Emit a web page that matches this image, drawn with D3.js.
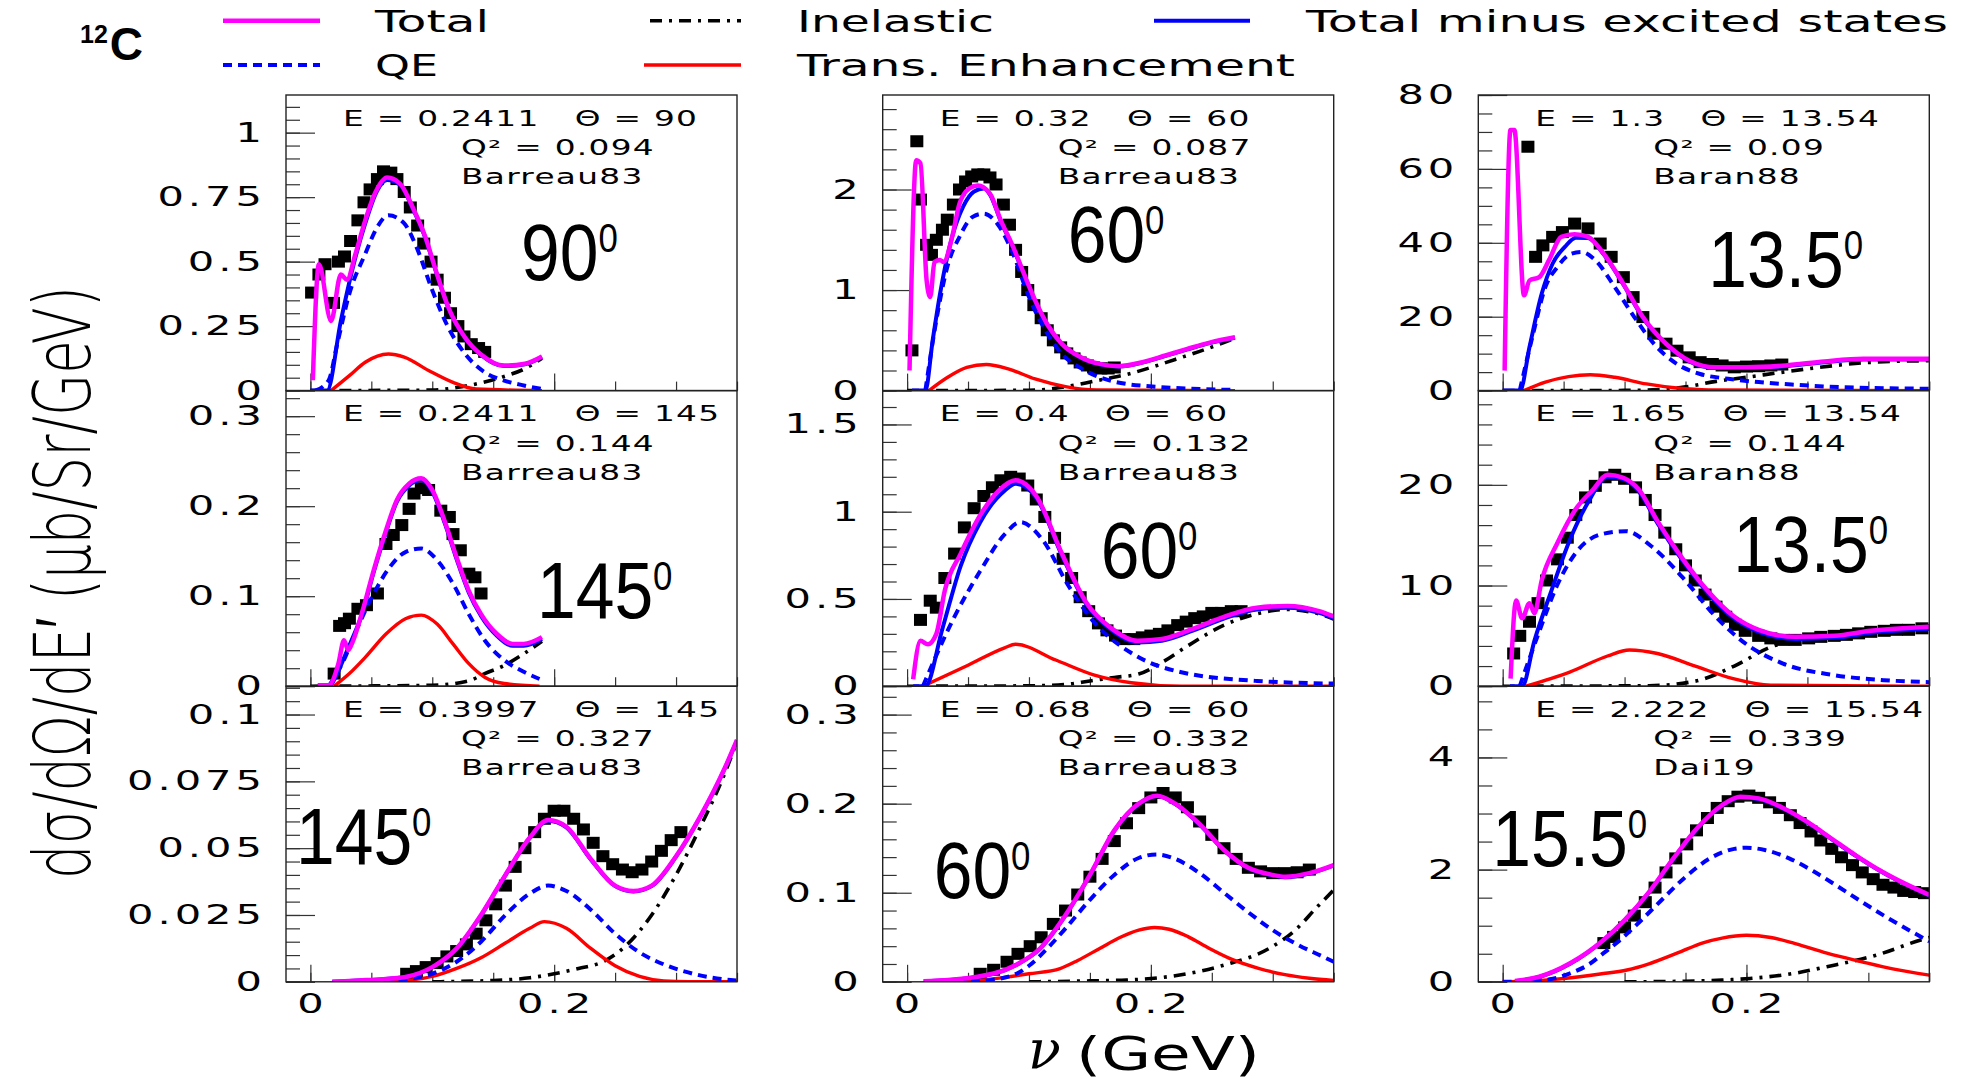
<!DOCTYPE html>
<html><head><meta charset="utf-8">
<script src="https://cdn.jsdelivr.net/npm/d3@7"></script>
<style>body{margin:0;background:#fff;overflow:hidden} text{white-space:pre}</style>
</head><body>
<svg id="c" width="1969" height="1080" xmlns="http://www.w3.org/2000/svg"></svg>
<script>
// ---------------- DATA ----------------
const panelE = ["0.2411","0.32","1.3","0.2411","0.4","1.65","0.3997","0.68","2.222"];
const panelTheta = ["90","60","13.54","145","60","13.54","145","60","15.54"];
const panelQ2 = ["0.094","0.087","0.09","0.144","0.132","0.144","0.327","0.332","0.339"];
const panelRef = ["Barreau83","Barreau83","Baran88","Barreau83","Barreau83","Baran88","Barreau83","Barreau83","Dai19"];
const angleLabel = ["90","60","13.5","145","60","13.5","145","60","15.5"];
const yMax = [1.146, 2.94, 80, 0.3284, 1.694, 29.36, 0.1106, 0.3319, 5.27];
const yMajor = [0.25, 1, 20, 0.1, 0.5, 10, 0.025, 0.1, 2];
const yMinor = [0.05, 0.2, 5, 0.02, 0.1, 2, 0.005, 0.02, 0.5];
const yTickLabels = [["0","0.25","0.5","0.75","1"],["0","1","2"],["0","20","40","60","80"],
  ["0","0.1","0.2","0.3"],["0","0.5","1","1.5"],["0","10","20"],
  ["0","0.025","0.05","0.075","0.1"],["0","0.1","0.2","0.3"],["0","2","4"]];
const xTickLabels = ["0","0.2"];
const xMajorTicks = [0, 0.2];
const xMinorTicks = [0, 0.05, 0.1, 0.15, 0.2, 0.25, 0.3, 0.35];
const legendLabels = ["Total","QE","Inelastic","Trans. Enhancement","Total minus excited states"];

// panel 1 (E=0.2411, 90 deg)
const p1_total = [[0.002,0.04],[0.007,0.49],[0.017,0.27],[0.025,0.45],[0.03,0.43],[0.037,0.53],[0.045,0.66],[0.053,0.765],[0.063,0.826],[0.074,0.80],[0.084,0.71],[0.094,0.6],[0.104,0.45],[0.113,0.325],[0.127,0.205],[0.14,0.14],[0.159,0.097],[0.176,0.104],[0.19,0.132]];
const p1_tminus = [[0.0,0],[0.0137,0],[0.025,0.27],[0.035,0.48],[0.045,0.648],[0.055,0.777],[0.063,0.816],[0.074,0.795],[0.084,0.705],[0.094,0.595],[0.104,0.447],[0.113,0.322],[0.127,0.203],[0.14,0.138],[0.159,0.095],[0.176,0.102],[0.19,0.13]];
const p1_qe = [[0.004,0],[0.015,0.04],[0.022,0.18],[0.032,0.376],[0.045,0.53],[0.055,0.635],[0.064,0.68],[0.077,0.648],[0.087,0.557],[0.1,0.389],[0.113,0.246],[0.127,0.142],[0.143,0.071],[0.159,0.039],[0.176,0.019],[0.19,0.006]];
const p1_te = [[0.017,0],[0.032,0.058],[0.045,0.11],[0.064,0.142],[0.077,0.13],[0.097,0.078],[0.117,0.032],[0.136,0.006],[0.19,0]];
const p1_inel = [[0.0,0],[0.1,0.002],[0.12,0.012],[0.14,0.03],[0.159,0.055],[0.176,0.085],[0.19,0.125]];
const p1_data = [[0.001,0.38],[0.007,0.45],[0.012,0.49],[0.019,0.34],[0.023,0.5],[0.028,0.52],[0.033,0.58],[0.039,0.66],[0.044,0.73],[0.049,0.78],[0.055,0.82],[0.06,0.85],[0.066,0.845],[0.071,0.82],[0.077,0.77],[0.082,0.71],[0.088,0.64],[0.093,0.57],[0.099,0.5],[0.104,0.43],[0.11,0.36],[0.115,0.3],[0.121,0.25],[0.126,0.21],[0.132,0.18],[0.138,0.165],[0.143,0.15]];

// panel 2 (E=0.32, 60 deg)
const p2_total = [[0.002,0.2],[0.0075,2.29],[0.011,2.26],[0.016,1.1],[0.019,0.93],[0.0225,1.28],[0.027,1.3],[0.03,1.28],[0.037,1.53],[0.043,1.86],[0.051,2.01],[0.058,2.04],[0.068,1.96],[0.077,1.69],[0.087,1.43],[0.096,1.16],[0.105,0.9],[0.115,0.66],[0.127,0.465],[0.143,0.33],[0.158,0.266],[0.174,0.243],[0.193,0.282],[0.212,0.349],[0.23,0.415],[0.249,0.48],[0.269,0.53]];
const p2_tminus = [[0.004,0],[0.015,0],[0.021,0.5],[0.027,0.96],[0.037,1.53],[0.046,1.83],[0.055,1.98],[0.063,2.01],[0.068,1.95],[0.077,1.68],[0.087,1.42],[0.096,1.15],[0.105,0.89],[0.115,0.65],[0.127,0.46],[0.143,0.325],[0.158,0.262],[0.174,0.24],[0.193,0.278],[0.212,0.345],[0.23,0.41],[0.249,0.475],[0.269,0.525]];
const p2_qe = [[0.015,0],[0.024,0.7],[0.033,1.23],[0.043,1.53],[0.054,1.73],[0.063,1.76],[0.074,1.66],[0.087,1.36],[0.099,0.96],[0.112,0.63],[0.127,0.365],[0.146,0.2],[0.162,0.116],[0.18,0.066],[0.199,0.043],[0.218,0.027],[0.269,0.007]];
const p2_te = [[0.018,0],[0.033,0.13],[0.049,0.23],[0.065,0.26],[0.083,0.216],[0.105,0.116],[0.13,0.04],[0.155,0.007],[0.269,0]];
const p2_inel = [[0.0,0],[0.1,0.003],[0.12,0.02],[0.14,0.06],[0.16,0.11],[0.18,0.16],[0.2,0.23],[0.22,0.31],[0.24,0.39],[0.269,0.52]];
const p2_data = [[0.004,0.4],[0.008,2.48],[0.011,1.9],[0.016,1.45],[0.02,1.35],[0.024,1.5],[0.029,1.6],[0.033,1.7],[0.038,1.85],[0.043,2.0],[0.048,2.08],[0.053,2.13],[0.058,2.15],[0.063,2.15],[0.068,2.12],[0.073,2.05],[0.079,1.85],[0.084,1.65],[0.089,1.4],[0.094,1.18],[0.099,1.0],[0.104,0.85],[0.11,0.72],[0.115,0.6],[0.12,0.5],[0.126,0.43],[0.131,0.37],[0.137,0.32],[0.142,0.28],[0.148,0.25],[0.153,0.23],[0.159,0.22],[0.165,0.22],[0.17,0.23]];

// panel 3 (E=1.3, 13.54 deg)
const p3_total = [[0.0016,5.4],[0.0064,70.5],[0.0096,70.5],[0.0175,25.8],[0.022,29.8],[0.03,30.7],[0.038,35.3],[0.048,41.6],[0.059,42.3],[0.07,41.6],[0.083,37],[0.099,28.9],[0.115,19.9],[0.134,12.7],[0.153,8.1],[0.175,6.3],[0.2,6.3],[0.232,6.8],[0.264,7.9],[0.296,8.6],[0.35,8.6]];
const p3_tminus = [[0.0,0],[0.0143,0],[0.022,11.8],[0.032,26.2],[0.041,34.4],[0.051,38.9],[0.06,41.4],[0.07,41.3],[0.083,36.8],[0.099,28.7],[0.115,19.7],[0.134,12.5],[0.153,7.9],[0.175,6.1],[0.2,6.1],[0.232,6.6],[0.264,7.7],[0.296,8.4],[0.35,8.4]];
const p3_qe = [[0.014,0],[0.025,15.4],[0.035,28],[0.045,33.5],[0.056,37],[0.065,37.5],[0.076,35.3],[0.092,28],[0.108,19.9],[0.124,12.7],[0.143,7.2],[0.162,4.5],[0.185,3.2],[0.21,2.3],[0.239,1.6],[0.28,0.9],[0.35,0.5]];
const p3_te = [[0.0175,0],[0.035,2.3],[0.054,3.8],[0.072,4.3],[0.092,3.6],[0.118,1.8],[0.143,0.7],[0.169,0.2],[0.35,0]];
const p3_inel = [[0.0,0],[0.1,0.05],[0.13,0.3],[0.15,1.0],[0.175,2.5],[0.2,3.6],[0.23,5.0],[0.26,6.3],[0.3,7.6],[0.35,8.1]];
const p3_data = [[0.0207,66],[0.027,36.2],[0.033,39.3],[0.041,41.6],[0.049,42.9],[0.059,45.2],[0.07,43.9],[0.08,39.8],[0.089,36.2],[0.099,30.7],[0.107,25.3],[0.115,19.9],[0.124,15.4],[0.134,12.7],[0.143,10.8],[0.153,9],[0.162,7.7],[0.172,7.2],[0.18,6.8],[0.19,6.3],[0.2,6.5],[0.21,6.6],[0.22,6.8],[0.229,7.05]];

// panel 4 (E=0.2411, 145 deg)
const p4_total = [[0.006,0.001],[0.015,0.001],[0.023,0.025],[0.0276,0.051],[0.031,0.04],[0.034,0.047],[0.042,0.08],[0.052,0.129],[0.062,0.173],[0.071,0.207],[0.081,0.225],[0.091,0.231],[0.1,0.218],[0.11,0.184],[0.12,0.143],[0.13,0.106],[0.14,0.08],[0.153,0.058],[0.166,0.047],[0.175,0.047],[0.19,0.0545]];
const p4_tminus = [[0.006,0],[0.015,0],[0.023,0.017],[0.029,0.036],[0.036,0.058],[0.042,0.078],[0.052,0.127],[0.062,0.171],[0.071,0.205],[0.081,0.223],[0.091,0.229],[0.1,0.216],[0.11,0.182],[0.12,0.141],[0.13,0.104],[0.14,0.078],[0.153,0.056],[0.166,0.045],[0.175,0.045],[0.19,0.0525]];
const p4_qe = [[0.015,0],[0.026,0.025],[0.039,0.066],[0.052,0.103],[0.065,0.132],[0.078,0.149],[0.091,0.153],[0.104,0.14],[0.117,0.114],[0.13,0.08],[0.143,0.051],[0.159,0.029],[0.175,0.016],[0.188,0.008]];
const p4_te = [[0.0195,0],[0.032,0.014],[0.045,0.032],[0.062,0.058],[0.078,0.075],[0.091,0.079],[0.104,0.069],[0.117,0.047],[0.13,0.025],[0.143,0.01],[0.159,0.003],[0.188,0]];
const p4_inel = [[0.0,0],[0.1,0.001],[0.13,0.006],[0.143,0.014],[0.159,0.023],[0.175,0.036],[0.19,0.05]];
const p4_data = [[0.0195,0.014],[0.024,0.067],[0.028,0.07],[0.032,0.075],[0.039,0.086],[0.046,0.09],[0.055,0.103],[0.062,0.158],[0.068,0.168],[0.075,0.179],[0.081,0.197],[0.085,0.214],[0.091,0.22],[0.097,0.218],[0.107,0.195],[0.114,0.188],[0.117,0.169],[0.123,0.151],[0.13,0.125],[0.135,0.121],[0.14,0.103]];

// panel 5 (E=0.4, 60 deg)
const p5_total = [[0.005,0.04],[0.011,0.26],[0.017,0.24],[0.024,0.3],[0.031,0.55],[0.044,0.76],[0.06,0.98],[0.075,1.12],[0.089,1.18],[0.106,1.09],[0.127,0.76],[0.147,0.48],[0.168,0.33],[0.189,0.26],[0.209,0.27],[0.235,0.33],[0.261,0.4],[0.287,0.45],[0.312,0.46],[0.338,0.43],[0.35,0.4]];
const p5_tminus = [[0.005,0],[0.015,0],[0.029,0.33],[0.044,0.69],[0.06,0.94],[0.08,1.12],[0.089,1.16],[0.106,1.08],[0.127,0.75],[0.147,0.47],[0.168,0.32],[0.189,0.25],[0.209,0.26],[0.235,0.32],[0.261,0.39],[0.287,0.44],[0.312,0.45],[0.338,0.42],[0.35,0.39]];
const p5_qe = [[0.013,0],[0.039,0.4],[0.06,0.66],[0.08,0.87],[0.093,0.94],[0.111,0.84],[0.132,0.58],[0.153,0.37],[0.184,0.19],[0.225,0.08],[0.287,0.03],[0.35,0.015]];
const p5_te = [[0.013,0],[0.05,0.12],[0.08,0.22],[0.089,0.24],[0.122,0.15],[0.153,0.065],[0.184,0.02],[0.225,0],[0.35,0]];
const p5_inel = [[0.0,0],[0.1,0.002],[0.13,0.01],[0.15,0.03],[0.17,0.05],[0.19,0.07],[0.21,0.14],[0.23,0.23],[0.26,0.35],[0.29,0.42],[0.31,0.44],[0.34,0.41],[0.35,0.385]];
const p5_data = [[0.011,0.38],[0.019,0.49],[0.024,0.45],[0.031,0.62],[0.039,0.76],[0.047,0.91],[0.055,1.02],[0.063,1.09],[0.07,1.14],[0.077,1.18],[0.085,1.2],[0.092,1.19],[0.099,1.15],[0.106,1.07],[0.113,0.97],[0.121,0.85],[0.128,0.73],[0.135,0.62],[0.142,0.51],[0.149,0.43],[0.157,0.36],[0.164,0.32],[0.171,0.29],[0.178,0.27],[0.186,0.27],[0.193,0.28],[0.2,0.29],[0.207,0.3],[0.214,0.32],[0.222,0.35],[0.229,0.37],[0.236,0.39],[0.243,0.4],[0.25,0.42],[0.258,0.42],[0.266,0.43],[0.274,0.43]];

// panel 6 (E=1.65, 13.54 deg)
const p6_total = [[0.0065,0.75],[0.011,8.5],[0.016,6.75],[0.022,8.25],[0.026,7.25],[0.032,10.5],[0.045,14.25],[0.06,17.6],[0.074,19.5],[0.086,21],[0.098,20.75],[0.112,19.5],[0.127,16.4],[0.148,12.6],[0.168,9.5],[0.189,7],[0.21,5.6],[0.24,4.9],[0.272,5],[0.302,5.5],[0.35,5.9]];
const p6_tminus = [[0.006,0],[0.016,0],[0.026,4.5],[0.04,9.5],[0.055,14.5],[0.07,18.25],[0.086,20.8],[0.098,20.6],[0.112,19.3],[0.127,16.2],[0.148,12.4],[0.168,9.3],[0.189,6.8],[0.21,5.4],[0.24,4.7],[0.272,4.8],[0.302,5.3],[0.35,5.7]];
const p6_qe = [[0.014,0],[0.029,5.1],[0.045,10.1],[0.06,13.25],[0.081,15.1],[0.101,15.4],[0.122,13.9],[0.148,10.75],[0.174,7],[0.199,4.25],[0.23,2.25],[0.272,1.1],[0.313,0.6],[0.35,0.4]];
const p6_te = [[0.019,0],[0.055,1.4],[0.086,3],[0.104,3.6],[0.127,3.25],[0.158,2],[0.189,0.75],[0.22,0.1],[0.35,0]];
const p6_inel = [[0.0,0],[0.12,0.05],[0.158,0.5],[0.19,2],[0.22,3.9],[0.25,4.75],[0.282,5.4],[0.313,5.6],[0.35,6]];
const p6_data = [[0.009,3.25],[0.014,5],[0.022,6.4],[0.029,8.25],[0.036,10.5],[0.045,12.6],[0.053,14.75],[0.06,17],[0.068,18.75],[0.076,19.9],[0.084,20.75],[0.092,21],[0.1,20.6],[0.109,19.75],[0.117,18.5],[0.125,17],[0.133,15.25],[0.142,13.6],[0.15,12],[0.158,10.5],[0.166,9.1],[0.175,7.9],[0.183,6.9],[0.191,6.1],[0.199,5.5],[0.21,5],[0.22,4.75],[0.23,4.6],[0.24,4.6],[0.251,4.75],[0.261,4.9],[0.272,5],[0.282,5.1],[0.292,5.25],[0.302,5.4],[0.313,5.5],[0.323,5.6],[0.333,5.6],[0.344,5.75]];

// panel 7 (E=0.3997, 145 deg)
const p7_total = [[0.018,0],[0.04,0.0005],[0.06,0.001],[0.08,0.002],[0.1,0.0055],[0.12,0.0125],[0.14,0.025],[0.16,0.04],[0.18,0.054],[0.195,0.0605],[0.21,0.058],[0.23,0.046],[0.25,0.036],[0.265,0.034],[0.28,0.036],[0.3,0.047],[0.32,0.062],[0.34,0.08],[0.35,0.0905]];
const p7_tminus = [[0.018,0],[0.04,0.0005],[0.06,0.001],[0.08,0.002],[0.1,0.0054],[0.12,0.0123],[0.14,0.0248],[0.16,0.0398],[0.18,0.0538],[0.195,0.0603],[0.21,0.0578],[0.23,0.0458],[0.25,0.0358],[0.265,0.0338],[0.28,0.0358],[0.3,0.0468],[0.32,0.0618],[0.34,0.0798],[0.35,0.0903]];
const p7_qe = [[0.06,0],[0.08,0.001],[0.1,0.003],[0.12,0.0075],[0.14,0.015],[0.16,0.025],[0.18,0.033],[0.195,0.036],[0.21,0.034],[0.23,0.027],[0.25,0.018],[0.27,0.011],[0.29,0.0065],[0.31,0.0035],[0.33,0.0015],[0.35,0.0005]];
const p7_te = [[0.06,0],[0.08,0.0005],[0.1,0.002],[0.12,0.005],[0.14,0.009],[0.16,0.0145],[0.18,0.02],[0.192,0.0225],[0.21,0.02],[0.23,0.0125],[0.25,0.006],[0.27,0.002],[0.29,0.0003],[0.31,0],[0.35,0]];
const p7_inel = [[0.1,0],[0.15,0.0005],[0.18,0.0015],[0.2,0.003],[0.22,0.005],[0.24,0.0075],[0.26,0.014],[0.28,0.025],[0.3,0.04],[0.32,0.058],[0.34,0.078],[0.35,0.09]];
const p7_data = [[0.079,0.003],[0.087,0.004],[0.095,0.0055],[0.104,0.007],[0.112,0.0095],[0.12,0.0115],[0.128,0.014],[0.136,0.018],[0.144,0.023],[0.152,0.029],[0.16,0.036],[0.168,0.043],[0.176,0.05],[0.184,0.056],[0.192,0.061],[0.2,0.064],[0.208,0.064],[0.216,0.061],[0.224,0.057],[0.232,0.052],[0.24,0.047],[0.248,0.044],[0.256,0.042],[0.264,0.041],[0.272,0.042],[0.28,0.045],[0.288,0.049],[0.296,0.053],[0.304,0.056]];

// panel 8 (E=0.68, 60 deg)
const p8_total = [[0.0136,0.0006],[0.052,0.0045],[0.09,0.0195],[0.109,0.0374],[0.13,0.075],[0.15,0.12],[0.17,0.17],[0.19,0.2],[0.205,0.209],[0.22,0.2],[0.24,0.177],[0.26,0.148],[0.28,0.128],[0.3,0.12],[0.31,0.118],[0.33,0.122],[0.35,0.131]];
const p8_tminus = [[0.0136,0.0005],[0.052,0.0043],[0.09,0.0192],[0.109,0.037],[0.13,0.0745],[0.15,0.1195],[0.17,0.1695],[0.19,0.1995],[0.205,0.2085],[0.22,0.1995],[0.24,0.1765],[0.26,0.1475],[0.28,0.1275],[0.3,0.1195],[0.31,0.1175],[0.33,0.1215],[0.35,0.1305]];
const p8_qe = [[0.04,0],[0.06,0.001],[0.087,0.0075],[0.1,0.018],[0.115,0.0374],[0.13,0.06],[0.15,0.092],[0.17,0.12],[0.19,0.139],[0.205,0.143],[0.22,0.138],[0.24,0.122],[0.26,0.1],[0.28,0.078],[0.3,0.058],[0.32,0.042],[0.34,0.029],[0.35,0.0225]];
const p8_te = [[0.03,0],[0.052,0.0006],[0.08,0.005],[0.1,0.009],[0.1255,0.0149],[0.14,0.024],[0.158,0.0374],[0.175,0.05],[0.19,0.058],[0.203,0.061],[0.215,0.059],[0.23,0.051],[0.248,0.0374],[0.265,0.026],[0.289,0.0149],[0.31,0.008],[0.33,0.004],[0.35,0.0015]];
const p8_inel = [[0.1,0],[0.15,0.001],[0.18,0.002],[0.207,0.0045],[0.235,0.0104],[0.262,0.0195],[0.297,0.0374],[0.32,0.06],[0.335,0.082],[0.35,0.103]];
const p8_data = [[0.06,0.009],[0.071,0.0135],[0.082,0.0225],[0.091,0.0314],[0.101,0.04],[0.11,0.05],[0.12,0.065],[0.13,0.08],[0.14,0.098],[0.15,0.118],[0.16,0.138],[0.17,0.158],[0.18,0.178],[0.19,0.195],[0.2,0.207],[0.21,0.212],[0.22,0.207],[0.23,0.196],[0.24,0.18],[0.25,0.165],[0.26,0.15],[0.27,0.138],[0.28,0.128],[0.29,0.124],[0.3,0.122],[0.31,0.122],[0.32,0.123],[0.33,0.126]];

// panel 9 (E=2.222, 15.54 deg)
const p9_total = [[0.0101,0.0127],[0.03,0.09],[0.0553,0.33],[0.0827,0.746],[0.1,1.1],[0.12,1.6],[0.14,2.2],[0.16,2.75],[0.18,3.15],[0.195,3.3],[0.21,3.27],[0.23,3.1],[0.25,2.85],[0.27,2.55],[0.29,2.25],[0.31,1.98],[0.33,1.75],[0.35,1.55]];
const p9_tminus = [[0.0101,0.01],[0.03,0.085],[0.0553,0.32],[0.0827,0.74],[0.1,1.09],[0.12,1.59],[0.14,2.19],[0.16,2.74],[0.18,3.14],[0.195,3.29],[0.21,3.26],[0.23,3.09],[0.25,2.84],[0.27,2.54],[0.29,2.24],[0.31,1.97],[0.33,1.74],[0.35,1.54]];
const p9_qe = [[0.0,0],[0.02,0.01],[0.04,0.05],[0.0553,0.15],[0.07,0.3],[0.0827,0.51],[0.0964,0.746],[0.11,1.02],[0.13,1.45],[0.15,1.87],[0.17,2.2],[0.19,2.37],[0.2,2.39],[0.215,2.35],[0.235,2.2],[0.255,1.97],[0.275,1.7],[0.295,1.42],[0.315,1.15],[0.335,0.9],[0.35,0.72]];
const p9_te = [[0.0,0],[0.02,0.01],[0.05,0.06],[0.08,0.14],[0.102,0.21],[0.12,0.32],[0.143,0.51],[0.165,0.7],[0.18,0.78],[0.2,0.83],[0.22,0.79],[0.24,0.68],[0.266,0.51],[0.294,0.36],[0.32,0.23],[0.35,0.12]];
const p9_inel = [[0.1,0],[0.15,0.01],[0.18,0.03],[0.203,0.06],[0.239,0.15],[0.266,0.27],[0.307,0.478],[0.343,0.746],[0.35,0.79]];
const p9_data = [[0.083,0.69],[0.091,0.8],[0.1,0.97],[0.108,1.18],[0.117,1.42],[0.125,1.68],[0.134,1.95],[0.142,2.2],[0.151,2.45],[0.159,2.7],[0.168,2.92],[0.176,3.1],[0.185,3.22],[0.193,3.3],[0.202,3.32],[0.21,3.28],[0.219,3.2],[0.227,3.1],[0.236,2.97],[0.244,2.83],[0.253,2.68],[0.261,2.52],[0.27,2.37],[0.278,2.22],[0.287,2.08],[0.295,1.95],[0.304,1.83],[0.312,1.73],[0.321,1.68],[0.329,1.62],[0.338,1.6],[0.346,1.58]];

// ---------------- TABLE BUILT FROM ARRAYS ----------------
const panels = [
  {total:p1_total,tminus:p1_tminus,qe:p1_qe,te:p1_te,inel:p1_inel,data:p1_data},
  {total:p2_total,tminus:p2_tminus,qe:p2_qe,te:p2_te,inel:p2_inel,data:p2_data},
  {total:p3_total,tminus:p3_tminus,qe:p3_qe,te:p3_te,inel:p3_inel,data:p3_data},
  {total:p4_total,tminus:p4_tminus,qe:p4_qe,te:p4_te,inel:p4_inel,data:p4_data},
  {total:p5_total,tminus:p5_tminus,qe:p5_qe,te:p5_te,inel:p5_inel,data:p5_data},
  {total:p6_total,tminus:p6_tminus,qe:p6_qe,te:p6_te,inel:p6_inel,data:p6_data},
  {total:p7_total,tminus:p7_tminus,qe:p7_qe,te:p7_te,inel:p7_inel,data:p7_data},
  {total:p8_total,tminus:p8_tminus,qe:p8_qe,te:p8_te,inel:p8_inel,data:p8_data},
  {total:p9_total,tminus:p9_tminus,qe:p9_qe,te:p9_te,inel:p9_inel,data:p9_data}
];

// ---------------- LAYOUT / STYLE ----------------
const svg = d3.select("#c");
const defs = svg.append("defs");
const W = 451, H = 295.6;
const colLeft = [286, 882.7, 1478.3];
const rowTop = [95, 390.6, 686.2];
const XDOM = [-0.02, 0.35];
const RF = "'DejaVu Sans', sans-serif";
const NARROW = "'Liberation Sans Narrow', 'Liberation Sans', sans-serif";
const styles = {
  inel:  {stroke:"#000", width:3.6, dash:"12,7,3,7"},
  te:    {stroke:"#ff0000", width:3.4, dash:null},
  qe:    {stroke:"#0000ff", width:4, dash:"9,6"},
  tminus:{stroke:"#0000ff", width:4, dash:null},
  total: {stroke:"#ff00ff", width:4.5, dash:null}
};
// angle label offsets in panel (x from left, baseline from top)
const angPos = [[235,185],[185,167],[230,192],[251,227],[218,187],[255,181],[10,178],[51,212],[14,180]];

function rtext(parent, x, y, str, o) {
  const g = parent.append("g").attr("transform", `translate(${x},${y}) scale(${o.sx||1},1)`);
  return g.append("text").attr("x",0).attr("y",0).attr("xml:space","preserve")
    .attr("font-family", o.family||RF).attr("font-size", o.size)
    .attr("text-anchor", o.anchor||"start").attr("letter-spacing", o.ls||0)
    .attr("dominant-baseline", o.db||"auto").attr("fill","#000").text(str);
}
function steps(max, step){ const n=Math.floor(max/step+1e-6); return d3.range(n+1).map(k=>+(k*step).toFixed(6)); }

for (let i=0;i<9;i++){
  const r=Math.floor(i/3), c=i%3;
  const L=colLeft[c], T=rowTop[r];
  const x=d3.scaleLinear().domain(XDOM).range([L,L+W]);
  const y=d3.scaleLinear().domain([0,yMax[i]]).range([T+H,T]);
  const g=svg.append("g");
  defs.append("clipPath").attr("id","clip"+i).append("rect").attr("x",L).attr("y",T).attr("width",W).attr("height",H);

  const yMinorAx = g.append("g").attr("transform",`translate(${L},0)`)
    .call(d3.axisRight(y).tickValues(steps(yMax[i],yMinor[i])).tickSize(14).tickFormat(""));
  const yMajorAx = g.append("g").attr("transform",`translate(${L},0)`)
    .call(d3.axisRight(y).tickValues(steps(yMax[i],yMajor[i])).tickSize(29).tickFormat(""));
  const xMinorAx = g.append("g").attr("transform",`translate(0,${T+H})`)
    .call(d3.axisTop(x).tickValues(xMinorTicks).tickSize(9).tickFormat(""));
  const xMajorAx = g.append("g").attr("transform",`translate(0,${T+H})`)
    .call(d3.axisTop(x).tickValues(xMajorTicks).tickSize(17).tickFormat(""));
  [yMinorAx,yMajorAx,xMinorAx,xMajorAx].forEach(a=>{a.select(".domain").remove(); a.selectAll("line").attr("stroke","#333").attr("stroke-width",1.2);});

  const pg=g.append("g").attr("clip-path",`url(#clip${i})`);
  const P=panels[i];
  pg.selectAll("rect.pt").data(P.data).enter().append("rect").attr("class","pt")
    .attr("x",d=>x(d[0])-6.5).attr("y",d=>y(d[1])-6).attr("width",13).attr("height",12).attr("fill","#000");
  const line=d3.line().x(d=>x(d[0])).y(d=>y(d[1])).curve(d3.curveMonotoneX);
  ["inel","te","qe","tminus","total"].forEach(k=>{
    const s=styles[k];
    pg.append("path").datum(P[k]).attr("d",line).attr("fill","none").attr("stroke",s.stroke)
      .attr("stroke-width",s.width).attr("stroke-dasharray",s.dash).attr("stroke-linejoin","round");
  });

  g.append("rect").attr("x",L).attr("y",T).attr("width",W).attr("height",H)
    .attr("fill","none").attr("stroke","#222").attr("stroke-width",1.4);

  yTickLabels[i].forEach(s=>{
    rtext(svg, L-24+4, y(+s), s, {size:26, sx:1.6, ls:2.5, anchor:"end", db:"central"});
  });
  if (r===2) {
    xTickLabels.forEach(s=>{
      rtext(svg, x(+s)+2, 1004, s, {size:26, sx:1.6, ls:2.5, anchor:"middle", db:"central"});
    });
  }
  rtext(svg, L+57, T+30.5, `E = ${panelE[i]}   \u0398 = ${panelTheta[i]}`, {size:20.5, sx:1.6, ls:0.8});
  rtext(svg, L+175, T+60, `Q\u00b2 = ${panelQ2[i]}`, {size:20.5, sx:1.6, ls:0.8});
  rtext(svg, L+175, T+89, panelRef[i], {size:20.5, sx:1.6, ls:0.8});
  const at = svg.append("g").attr("transform",`translate(${L+angPos[i][0]},${T+angPos[i][1]}) scale(0.87,1)`)
    .append("text").attr("x",0).attr("y",0)
    .attr("font-family",NARROW).attr("font-size",80).attr("fill","#000");
  at.append("tspan").text(angleLabel[i]);
  at.append("tspan").attr("font-size",40).attr("dy",-28).text("0");
}

// ---------------- LEGEND ----------------
const lg = svg.append("g");
function legLine(x1,x2,yy,s){ lg.append("line").attr("x1",x1).attr("x2",x2).attr("y1",yy).attr("y2",yy)
  .attr("stroke",s.stroke).attr("stroke-width",s.width).attr("stroke-dasharray",s.dash); }
function legText(xx,yy,str,len){ lg.append("text").attr("x",xx).attr("y",yy).attr("font-family",RF).attr("font-size",30)
  .attr("textLength",len).attr("lengthAdjust","spacingAndGlyphs").attr("fill","#000").text(str); }
legLine(223,320,20.7,styles.total);   legText(375,31.7,legendLabels[0],114);
legLine(223,320,65,styles.qe);        legText(375,76,legendLabels[1],63);
legLine(650,741,20.7,styles.inel);    legText(797,31.7,legendLabels[2],197);
legLine(644,741,65,styles.te);        legText(797,76,legendLabels[3],498);
legLine(1154,1250,20.7,styles.tminus);legText(1306,31.7,legendLabels[4],642);

// 12C label
const cl = svg.append("text").attr("x",80).attr("y",60).attr("font-family",NARROW).attr("font-weight","bold").attr("fill","#000");
cl.append("tspan").attr("font-size",25).attr("dy",-17).text("12");
cl.append("tspan").attr("font-size",46).attr("dy",17).attr("dx",2).text("C");

// axis titles
svg.append("text").attr("transform","translate(90,879) rotate(-90)").attr("x",0).attr("y",0)
  .attr("font-family",RF).attr("font-size",78).attr("font-weight",200)
  .attr("textLength",593).attr("lengthAdjust","spacingAndGlyphs").attr("fill","#000")
  .text("d\u03c3/d\u03a9/dE\u2032 (\u03bcb/Sr/GeV)");
svg.append("text").attr("x",1028).attr("y",1068).attr("font-family","'DejaVu Serif', serif").attr("font-style","italic")
  .attr("font-size",54).attr("fill","#000").text("\u03bd");
svg.append("text").attr("x",1076).attr("y",1070).attr("font-family",RF).attr("font-size",46)
  .attr("textLength",184).attr("lengthAdjust","spacingAndGlyphs").attr("fill","#000").text("(GeV)");
</script>
</body></html>
